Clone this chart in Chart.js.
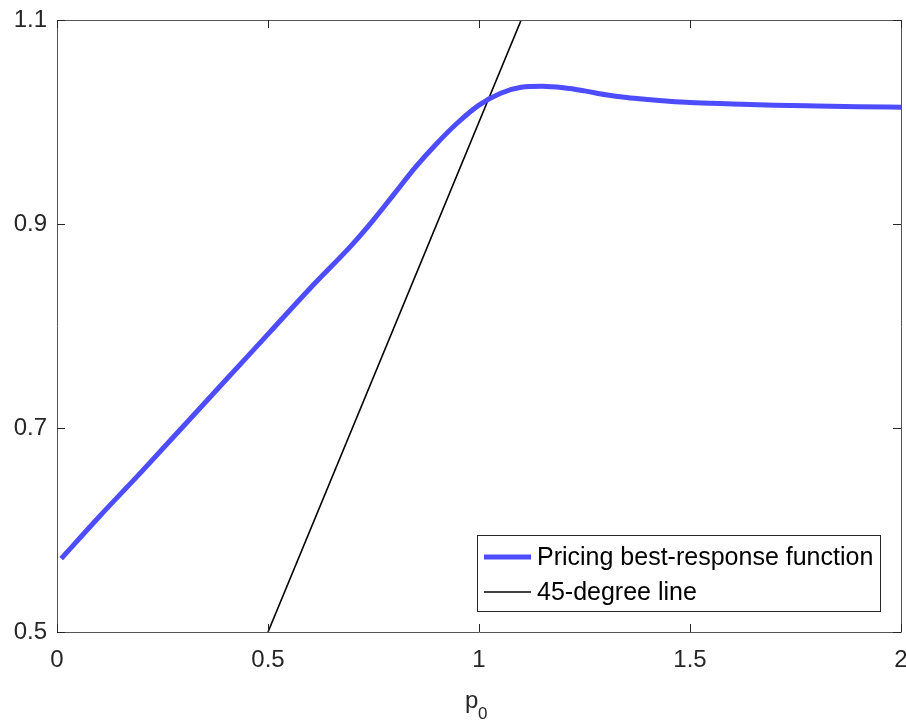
<!DOCTYPE html>
<html>
<head>
<meta charset="utf-8">
<script src="https://cdn.jsdelivr.net/npm/chart.js@4.4.1/dist/chart.umd.min.js"></script>
<style>
  html, body { margin: 0; padding: 0; background: #fff; }
  #wrap { width: 906px; height: 727px; }
</style>
</head>
<body>
<div id="wrap"><canvas id="chart1" width="906" height="727"></canvas></div>
<script>
// best-response curve
const priceX = [0.01, 0.1, 0.2, 0.3, 0.4, 0.5, 0.6, 0.7, 0.75, 0.8, 0.85, 0.9, 0.95, 1.0,
                1.05, 1.1, 1.15, 1.2, 1.25, 1.3, 1.35, 1.4, 1.45, 1.5, 1.6, 1.7, 1.8, 1.9, 2.0];
const priceY = [0.572, 0.613, 0.657, 0.702, 0.747, 0.792, 0.837, 0.880, 0.904, 0.930, 0.956,
                0.979, 0.9995, 1.0165, 1.028, 1.034, 1.035, 1.0335, 1.0305, 1.0268, 1.024, 1.022,
                1.0203, 1.019, 1.0177, 1.0165, 1.0157, 1.015, 1.0145];

// 45-degree line
const diagX = [0.5, 1.1];
const diagY = [0.5, 1.1];

const xTicks = [0, 0.5, 1, 1.5, 2];
const yTicks = [0.5, 0.7, 0.9, 1.1];

const FONT = '"Liberation Sans", Arial, sans-serif';
const TEXT = '#262626';

// box, inward ticks, x title and legend like the MATLAB figure
const matlabAxes = {
    id: 'matlabAxes',
    afterDraw(chart) {
        const ctx = chart.ctx;
        const a = chart.chartArea;
        const xs = chart.scales.x;
        const ys = chart.scales.y;
        ctx.save();
        ctx.strokeStyle = '#555';
        ctx.lineWidth = 1;
        ctx.beginPath();
        ctx.rect(Math.round(a.left) + 0.5, Math.round(a.top) + 0.5,
                 Math.round(a.right - a.left), Math.round(a.bottom - a.top));
        ctx.stroke();

        ctx.strokeStyle = '#262626';
        const len = 8;
        xTicks.forEach(v => {
            const px = Math.round(xs.getPixelForValue(v)) + 0.5;
            ctx.beginPath();
            ctx.moveTo(px, a.bottom); ctx.lineTo(px, a.bottom - len);
            ctx.moveTo(px, a.top); ctx.lineTo(px, a.top + len);
            ctx.stroke();
        });
        yTicks.forEach(v => {
            const py = Math.round(ys.getPixelForValue(v)) + 0.5;
            ctx.beginPath();
            ctx.moveTo(a.left, py); ctx.lineTo(a.left + len, py);
            ctx.moveTo(a.right, py); ctx.lineTo(a.right - len, py);
            ctx.stroke();
        });

        // x axis title p0
        const cx = xs.getPixelForValue(1);
        ctx.fillStyle = TEXT;
        ctx.textBaseline = 'alphabetic';
        ctx.textAlign = 'left';
        ctx.font = '24px ' + FONT;
        ctx.fillText('p', cx - 14, 708);
        ctx.font = '17px ' + FONT;
        ctx.fillText('0', cx - 1, 719);

        // legend
        const lx = 477, ly = 535, lw = 403, lh = 76;
        ctx.fillStyle = '#fff';
        ctx.fillRect(lx, ly, lw, lh);
        ctx.strokeStyle = '#262626';
        ctx.lineWidth = 1;
        ctx.strokeRect(lx + 0.5, ly + 0.5, lw, lh);
        const rows = [557, 592];
        chart.data.datasets.forEach((ds, i) => {
            ctx.strokeStyle = ds.borderColor;
            ctx.lineWidth = ds.borderWidth;
            ctx.beginPath();
            ctx.moveTo(lx + 7, rows[i]);
            ctx.lineTo(lx + 54, rows[i]);
            ctx.stroke();
            ctx.fillStyle = '#000';
            ctx.font = '25px ' + FONT;
            ctx.textBaseline = 'middle';
            ctx.fillText(ds.label, lx + 60, rows[i] + 1);
        });
        ctx.restore();
    }
};

const ctx = document.getElementById('chart1').getContext('2d');
const chart1 = new Chart(ctx, {
    type: 'line',
    data: {
        datasets: [{
            label: 'Pricing best-response function',
            data: priceX.map((x, i) => ({ x: x, y: priceY[i] })),
            borderColor: '#4d4dff',
            borderWidth: 5,
            pointRadius: 0,
            cubicInterpolationMode: 'monotone',
            fill: false
        }, {
            label: '45-degree line',
            data: diagX.map((x, i) => ({ x: x, y: diagY[i] })),
            borderColor: '#000000',
            borderWidth: 1.6,
            pointRadius: 0,
            fill: false
        }]
    },
    options: {
        responsive: false,
        animation: false,
        events: [],
        layout: { padding: { top: 20, right: 5, left: 0, bottom: 0 } },
        plugins: {
            legend: { display: false },
            tooltip: { enabled: false }
        },
        scales: {
            x: {
                type: 'linear',
                min: 0,
                max: 2,
                grid: { display: false, drawTicks: false },
                border: { display: false },
                afterBuildTicks: scale => { scale.ticks = xTicks.map(v => ({ value: v })); },
                afterFit: scale => {
                    scale.height = 95;
                    scale.paddingLeft = 0;
                    scale.paddingRight = 0;
                },
                ticks: {
                    padding: 14,
                    color: TEXT,
                    font: { family: FONT, size: 24 },
                    maxRotation: 0,
                    callback: v => String(v)
                }
            },
            y: {
                type: 'linear',
                min: 0.5,
                max: 1.1,
                grid: { display: false, drawTicks: false },
                border: { display: false },
                afterBuildTicks: scale => { scale.ticks = yTicks.map(v => ({ value: v })); },
                afterFit: scale => {
                    scale.width = 57;
                    scale.paddingTop = 0;
                    scale.paddingBottom = 0;
                },
                ticks: {
                    padding: 10,
                    color: TEXT,
                    font: { family: FONT, size: 24 },
                    callback: v => String(Math.round(v * 10) / 10)
                }
            }
        }
    },
    plugins: [matlabAxes]
});
</script>
</body>
</html>
